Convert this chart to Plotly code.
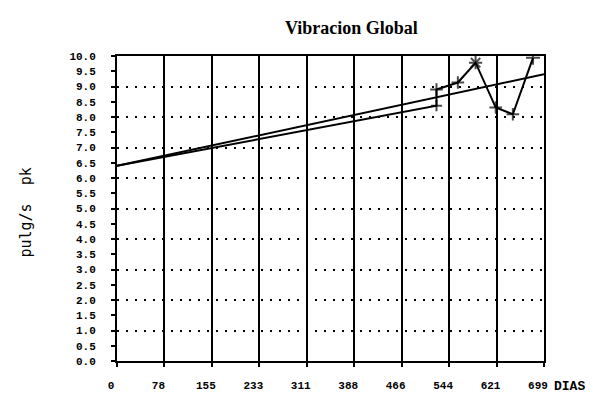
import plotly.graph_objects as go

# ---- data ----
x_tick_vals = [0, 77.67, 155.33, 233, 310.67, 388.33, 466, 543.67, 621.33, 699]
x_tick_text = ["0", "78", "155", "233", "311", "388", "466", "544", "621", "699"]
y_tick_vals = [0.0, 0.5, 1.0, 1.5, 2.0, 2.5, 3.0, 3.5, 4.0, 4.5, 5.0,
               5.5, 6.0, 6.5, 7.0, 7.5, 8.0, 8.5, 9.0, 9.5, 10.0]
y_tick_text = ["0.0", "0.5", "1.0", "1.5", "2.0", "2.5", "3.0", "3.5", "4.0", "4.5", "5.0",
               "5.5", "6.0", "6.5", "7.0", "7.5", "8.0", "8.5", "9.0", "9.5", "10.0"]
y_grid_vals = [1, 2, 3, 4, 5, 6, 7, 8, 9]

trend_days = [0, 699]
trend_vals = [6.4, 9.4]

meas_days = [0, 523, 523, 558, 587, 620, 648, 681]
meas_vals = [6.4, 8.37, 8.9, 9.13, 9.78, 8.31, 8.09, 9.94]

# ---- figure ----
fig = go.Figure()

fig.add_trace(go.Scatter(
    x=trend_days, y=trend_vals, mode="lines",
    line=dict(color="black", width=2), showlegend=False, hoverinfo="skip"))

fig.add_trace(go.Scatter(
    x=meas_days, y=meas_vals, mode="lines+markers",
    line=dict(color="black", width=2),
    marker=dict(symbol=["cross-thin", "cross-thin", "cross-thin", "cross-thin",
                        "asterisk", "cross-thin", "cross-thin", "cross-thin"],
                size=[0, 8, 9, 9, 11, 9, 9, 10],
                color="black", line=dict(color="black", width=2)),
    showlegend=False, hoverinfo="skip"))

# invisible trace on the secondary y axis so its dotted grid is drawn
fig.add_trace(go.Scatter(x=[0], y=[0], yaxis="y2", mode="markers",
                         marker=dict(opacity=0), showlegend=False, hoverinfo="skip"))

tick_font = dict(family="Liberation Mono", size=11, color="black", weight="bold")

fig.update_layout(
    width=593, height=396,
    margin=dict(l=109, r=57, t=48, b=29),
    paper_bgcolor="white", plot_bgcolor="white",
    title=dict(text="Vibracion Global", x=0.549, xref="paper", xanchor="center",
               y=0.95, yref="container", yanchor="middle",
               font=dict(family="Liberation Serif", size=18, color="black", weight="bold")),
    xaxis=dict(range=[0, 699], tickvals=x_tick_vals, ticktext=x_tick_text,
               showgrid=True, gridcolor="black", gridwidth=2,
               showline=True, linecolor="black", linewidth=2, mirror=True,
               ticks="outside", ticklen=4, tickwidth=2, tickcolor="black",
               ticklabelstandoff=9, ticklabelshift=-6, tickfont=tick_font, zeroline=False),
    yaxis=dict(range=[0, 10], tickvals=y_tick_vals, ticktext=y_tick_text,
               showgrid=False, showline=True, linecolor="black", linewidth=2, mirror=True,
               ticks="outside", ticklen=4, tickwidth=2, tickcolor="black",
               ticklabelstandoff=13, tickfont=tick_font, zeroline=False),
    yaxis2=dict(range=[0, 10], overlaying="y", side="right", tickvals=y_grid_vals,
                showticklabels=False, ticks="", showgrid=True, gridcolor="black",
                gridwidth=2, griddash="2px,7px", zeroline=False, showline=False),
    annotations=[
        dict(text="DIAS", xref="paper", yref="paper", x=1.1, y=-0.085,
             xanchor="right", yanchor="middle", showarrow=False,
             font=dict(family="Liberation Mono", size=13, color="black", weight="bold")),
        dict(text="pulg/s  pk", xref="paper", yref="paper", x=-0.2136, y=0.486,
             xanchor="center", yanchor="middle", textangle=-90, showarrow=False,
             font=dict(family="DejaVu Sans Mono", size=15, color="black")),
    ],
)

fig.write_html("out.html")
